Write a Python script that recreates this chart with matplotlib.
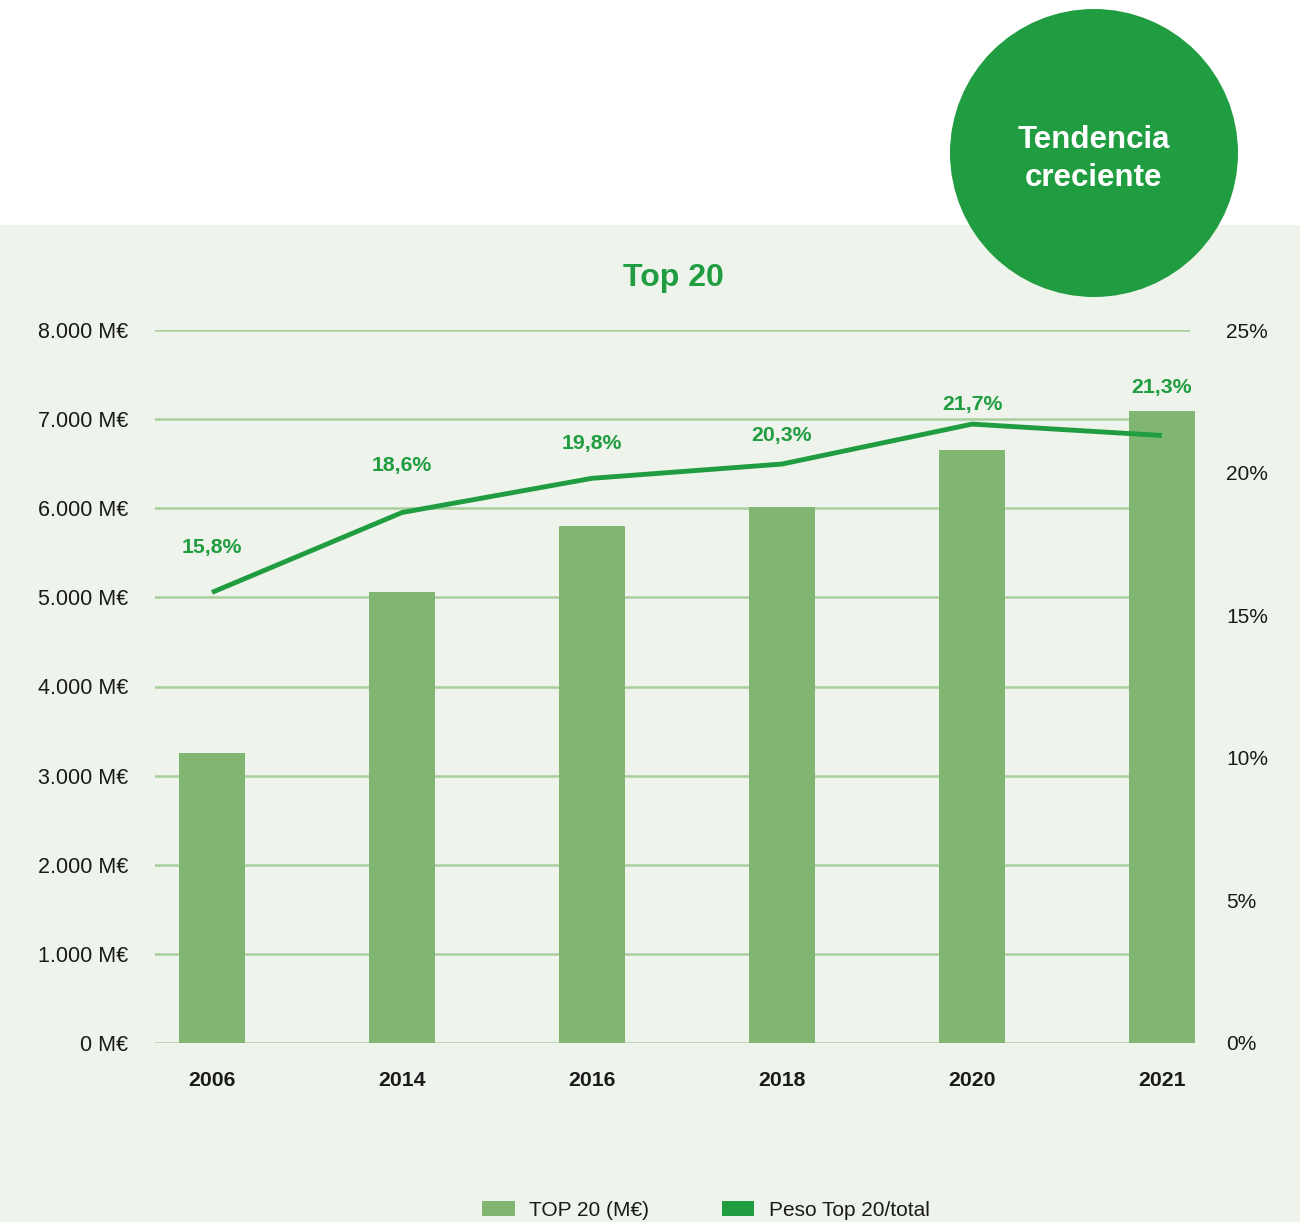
import matplotlib
matplotlib.use("Agg")
import matplotlib.pyplot as plt
from matplotlib.patches import Rectangle, Circle, Patch
from matplotlib.ticker import FuncFormatter

# ---- data ----
years = ["2006", "2014", "2016", "2018", "2020", "2021"]
top20_meur = [3250, 5060, 5800, 6010, 6650, 7090]
peso_pct = [15.8, 18.6, 19.8, 20.3, 21.7, 21.3]
left_ticks = [0, 1000, 2000, 3000, 4000, 5000, 6000, 7000, 8000]
right_ticks = [0, 5, 10, 15, 20, 25]
title = "Top 20"
badge_lines = ["Tendencia", "creciente"]
legend_labels = ["TOP 20 (M€)", "Peso Top 20/total"]

# ---- style ----
BG = "#EEF3EC"
BAR = "#80B572"
LINE = "#209D40"
GRID = "#AACF9E"
TXT = "#1A1A1A"
FONT = "Liberation Sans"
label_offsets_px = [45, 47, 35, 29, 20, 48]

plt.rcParams["font.family"] = [FONT, "DejaVu Sans"]

W, H = 1300, 1222
fig = plt.figure(figsize=(W / 100, H / 100), dpi=100)
fig.patch.set_facecolor("white")

# light green panel
fig.patches.append(Rectangle((0, 0), 1, 1 - 225 / H, transform=fig.transFigure,
                             facecolor=BG, edgecolor="none", zorder=-2))
# badge circle
fig.patches.append(Circle((1094 / 100, (H - 153) / 100), 1.44,
                          transform=fig.dpi_scale_trans, facecolor=LINE,
                          edgecolor="none", zorder=-1))
fig.text(1094 / W, 1 - 140 / H, badge_lines[0], ha="center", va="center",
         fontsize=22.5, fontweight="bold", color="white", zorder=3)
fig.text(1094 / W, 1 - 178 / H, badge_lines[1], ha="center", va="center",
         fontsize=22.5, fontweight="bold", color="white", zorder=3)

# title
fig.text(673 / W, 1 - 278 / H, title, ha="center", va="center",
         fontsize=23, fontweight="bold", color=LINE)

# axes
ax = fig.add_axes([155 / W, 1 - 1043 / H, (1190 - 155) / W, (1043 - 330) / H])
ax.set_facecolor("none")
x = list(range(len(years)))
ax.bar(x, top20_meur, width=0.347, color=BAR, zorder=2, clip_on=False)
ax.set_xlim(-0.3, (1190 - 212) / 190)
ax.set_ylim(0, 8000)
ax.set_yticks(left_ticks)
ax.yaxis.set_major_formatter(FuncFormatter(
    lambda v, p: f"{v:,.0f}".replace(",", ".") + " M€"))
ax.yaxis.grid(True, color=GRID, linewidth=1.8)
ax.set_axisbelow(True)
ax.set_xticks(x)
ax.set_xticklabels(years, fontweight="bold")
for s in ax.spines.values():
    s.set_visible(False)
ax.tick_params(axis="y", length=0, pad=19, labelsize=15.5, labelcolor=TXT)
ax.tick_params(axis="x", length=0, pad=20, labelsize=15.3, labelcolor=TXT)

ax2 = ax.twinx()
ax2.set_ylim(0, 25)
ax2.set_yticks(right_ticks)
ax2.set_yticklabels([f"{v}%" for v in right_ticks])
for s in ax2.spines.values():
    s.set_visible(False)
ax2.tick_params(axis="y", length=0, pad=26, labelsize=15, labelcolor=TXT)
ax2.plot(x, peso_pct, color=LINE, linewidth=3.5, solid_capstyle="butt", zorder=3)
for xi, v, off in zip(x, peso_pct, label_offsets_px):
    ax2.annotate(f"{v:.1f}%".replace(".", ","), (xi, v), xytext=(0, off * 0.72),
                 textcoords="offset points", ha="center", va="center",
                 fontsize=15.3, fontweight="bold", color=LINE)

# legend
handles = [Patch(facecolor=BAR, edgecolor="none"), Patch(facecolor=LINE, edgecolor="none")]
fig.legend(handles, legend_labels, loc="center", bbox_to_anchor=(706 / W, 1 - 1210 / H),
           ncol=2, frameon=False, fontsize=15, handlelength=1.55, handleheight=0.75,
           handletextpad=0.7, columnspacing=3.5, labelcolor=TXT)

fig.savefig("out.png", dpi=100, facecolor=fig.get_facecolor())
